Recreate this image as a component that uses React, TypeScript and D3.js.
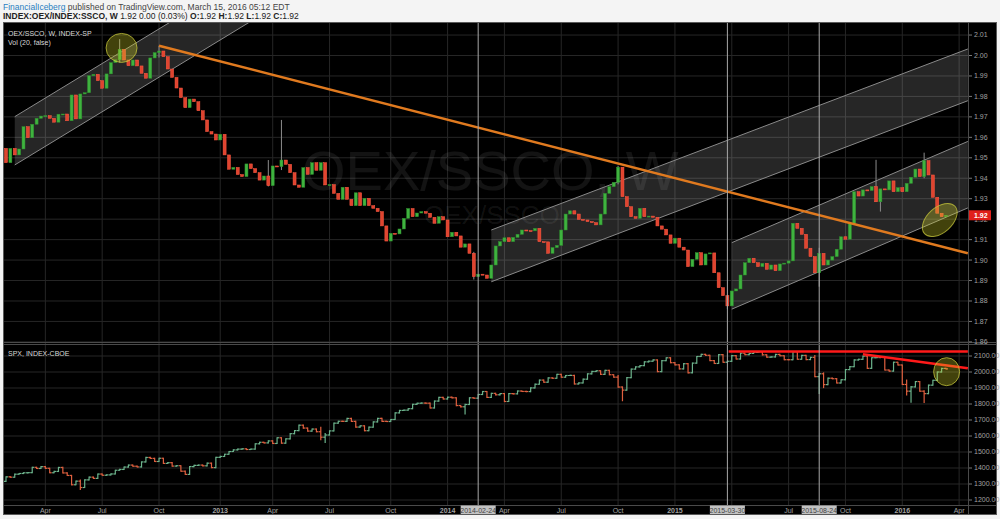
import React from "react";
import * as d3 from "d3";

// Weekly OEX/SSCO candles with S&P 500 bars underneath, as in the TradingView snapshot.

const FIRST_BAR = "2012-01-30";

const oexFirstOpen = 1.9546;
const oexClose = [
  1.9476, 1.9546, 1.9514, 1.9543, 1.9652, 1.9598, 1.9664, 1.9693, 1.9704, 1.9706,
  1.9693, 1.9674, 1.9713, 1.9714, 1.9681, 1.9807, 1.969, 1.9812, 1.9818, 1.9901,
  1.9908, 1.9877, 1.984, 1.991, 1.9965, 1.9979, 2.003, 1.9978, 1.995, 1.9978,
  1.9949, 1.9913, 1.9889, 1.9988, 2.0014, 2.0022, 1.9994, 1.9934, 1.9893, 1.9841,
  1.9794, 1.9745, 1.9787, 1.9774, 1.973, 1.9685, 1.9628, 1.9616, 1.9587, 1.9615,
  1.9514, 1.9444, 1.9453, 1.9418, 1.9408, 1.947, 1.9447, 1.9427, 1.9391, 1.9411,
  1.9364, 1.946, 1.9457, 1.9489, 1.9468, 1.9427, 1.9367, 1.9356, 1.9452, 1.9419,
  1.9476, 1.9439, 1.9476, 1.9367, 1.9369, 1.9326, 1.9297, 1.9356, 1.9297, 1.9266,
  1.9329, 1.9266, 1.9302, 1.9266, 1.9253, 1.9237, 1.9167, 1.9093, 1.9131, 1.9128,
  1.9152, 1.9204, 1.9252, 1.9212, 1.923, 1.9237, 1.9229, 1.9209, 1.918, 1.9212,
  1.9196, 1.9114, 1.9136, 1.9118, 1.9063, 1.9079, 1.9033, 1.8919, 1.8931, 1.8927,
  1.8911, 1.8976, 1.9069, 1.909, 1.9109, 1.909, 1.9111, 1.9126, 1.9147, 1.9144,
  1.9143, 1.9155, 1.909, 1.9089, 1.9033, 1.9061, 1.9072, 1.9147, 1.9225, 1.9241,
  1.9225, 1.9199, 1.9196, 1.9188, 1.9183, 1.9172, 1.9225, 1.9326, 1.9359, 1.938,
  1.9454, 1.931, 1.9261, 1.9212, 1.9204, 1.9253, 1.9212, 1.9215, 1.9209, 1.9167,
  1.9151, 1.9123, 1.9082, 1.9107, 1.9063, 1.9049, 1.8968, 1.9004, 1.9036, 1.8976,
  1.903, 1.9035, 1.8938, 1.8865, 1.8826, 1.8776, 1.8849, 1.8859, 1.8927, 1.8987,
  1.9009, 1.8987, 1.8968, 1.8984, 1.8955, 1.8976, 1.8948, 1.8981, 1.8985, 1.8996,
  1.918, 1.9155, 1.9126, 1.9058, 1.9017, 1.8938, 1.9033, 1.8976, 1.9, 1.9017,
  1.9053, 1.9114, 1.9102, 1.918, 1.9334, 1.9313, 1.9343, 1.934, 1.9359, 1.9285,
  1.9348, 1.9343, 1.9387, 1.9334, 1.9354, 1.9334, 1.9375, 1.9405, 1.9445, 1.9408,
  1.9486, 1.9416, 1.9307, 1.9229, 1.9212, 1.9219,
];
// [bar, high, low] for the wicks that stand out
const oexWicks = [
  [26, 2.008, 1.9965], [35, 2.0048, 1.999], [60, 1.9489, 1.936], [63, 1.9685, 1.944],
  [107, 1.904, 1.8905], [140, 1.946, 1.937], [165, 1.88, 1.876], [186, 1.906, 1.887],
  [199, 1.949, 1.9285], [200, 1.9348, 1.9237], [210, 1.9525, 1.94],
];

const spxFirstOpen = 1316.3;
const spxClose = [
  1344.9, 1342.6, 1361.2, 1365.7, 1370.0, 1370.9, 1404.2, 1397.1, 1408.5, 1398.1,
  1370.3, 1378.5, 1403.4, 1369.1, 1353.4, 1295.2, 1317.8, 1278.0, 1325.7, 1342.8,
  1335.0, 1362.2, 1354.7, 1356.8, 1362.7, 1386.0, 1391.0, 1405.9, 1418.2, 1411.1,
  1406.6, 1437.9, 1465.8, 1460.2, 1440.7, 1460.9, 1428.6, 1433.2, 1411.9, 1414.2,
  1379.9, 1359.9, 1409.2, 1416.2, 1418.1, 1413.6, 1430.2, 1402.4,
  1466.5, 1472.1, 1486.0, 1503.0, 1513.2, 1517.9, 1519.8, 1515.6, 1518.2, 1551.2,
  1560.7, 1556.9, 1569.2, 1553.3, 1588.9, 1555.3, 1582.2, 1614.4, 1633.7, 1667.5,
  1649.6, 1630.7, 1643.4, 1626.7, 1592.4, 1606.3, 1631.9, 1680.2, 1692.1, 1691.7,
  1709.7, 1691.4, 1655.8, 1663.5, 1633.0, 1655.2, 1688.0, 1709.9, 1691.8, 1690.5,
  1703.2, 1744.5, 1759.8, 1761.6, 1770.6, 1798.2, 1804.8, 1805.8, 1805.1, 1775.3,
  1818.3, 1841.4,
  1831.4, 1842.4, 1838.7, 1790.3, 1782.6, 1797.0, 1838.6, 1836.3, 1859.5, 1878.0,
  1841.1, 1866.5, 1857.6, 1865.1, 1815.7, 1864.9, 1863.4, 1881.1, 1878.5, 1877.9,
  1900.5, 1923.6, 1949.4, 1936.2, 1962.9, 1961.0, 1985.4, 1967.6, 1978.2, 1978.3,
  1925.2, 1931.6, 1955.1, 1988.4, 2003.4, 2007.7, 1985.5, 2010.4, 1982.9, 1967.9,
  1906.1, 1886.8, 1964.6, 2018.1, 2031.9, 2039.8, 2063.5, 2067.6, 2075.4, 2002.3,
  2070.7, 2088.8,
  2058.2, 2044.8, 2019.4, 2051.8, 1995.0, 2055.5, 2097.0, 2110.3, 2104.5, 2071.3,
  2053.4, 2108.1, 2061.0, 2067.0, 2102.1, 2081.2, 2117.7, 2108.3, 2116.1, 2122.7,
  2126.1, 2107.4, 2092.8, 2094.1, 2110.0, 2101.5, 2076.8, 2076.6, 2126.6, 2079.7,
  2103.8, 2077.6, 2091.5, 1970.9, 1988.9, 1921.2, 1961.1, 1958.0, 1931.3, 1951.4,
  2014.9, 2033.1, 2075.2, 2079.4, 2099.2, 2023.0, 2089.2, 2090.1, 2091.7, 2012.4,
  2005.6, 2061.0, 2043.9,
  1922.0, 1880.3, 1906.9, 1940.2, 1880.1, 1864.8, 1917.8, 1948.1, 2000.0, 2022.2,
  2019.6,
];
const spxWicks = [
  [17, 1325, 1266], [72, 1654, 1577], [73, 1615, 1560], [105, 1798, 1738],
  [140, 1977, 1905], [141, 1898, 1821], [185, 2103, 1971], [186, 1990, 1867],
  [187, 1994, 1903], [206, 1950, 1857], [207, 1909, 1812], [210, 1882, 1810],
];

const oexTicks = [2.01, 2.0, 1.99, 1.98, 1.97, 1.96, 1.95, 1.94, 1.93, 1.92, 1.91, 1.9, 1.89, 1.88, 1.87, 1.86];
const spxTicks = [2100, 2000, 1900, 1800, 1700, 1600, 1500, 1400, 1300, 1200];
const timeTicks = [
  ["2012-04-02", "Apr"], ["2012-07-02", "Jul"], ["2012-10-01", "Oct"], ["2013-01-07", "2013"],
  ["2013-04-01", "Apr"], ["2013-07-01", "Jul"], ["2013-10-07", "Oct"], ["2014-01-06", "2014"],
  ["2014-04-07", "Apr"], ["2014-07-07", "Jul"], ["2014-10-06", "Oct"], ["2015-01-05", "2015"],
  ["2015-04-06", ""], ["2015-07-06", "Jul"], ["2015-10-05", "Oct"], ["2016-01-04", "2016"],
  ["2016-04-04", "Apr"],
];
const markerDates = ["2014-02-24", "2015-03-30", "2015-08-24"];

const channels = [
  { from: "2012-02-13", to: "2013-03-04", upper: [1.9701, 2.0416], lower: [1.9465, 2.018] },
  { from: "2014-03-17", to: "2016-04-18", upper: [1.9147, 2.0032], lower: [1.8894, 1.9779] },
  { from: "2015-04-06", to: "2016-04-18", upper: [1.9085, 1.958], lower: [1.876, 1.9255] },
];
const trendLine = { from: "2012-10-01", to: "2016-04-18", values: [2.0048, 1.9033] };
const spxLines = [
  { from: "2015-04-01", to: "2016-04-18", values: [2128, 2128] },
  { from: "2015-11-02", to: "2016-04-18", values: [2110.6, 2023] },
];
const oexMarks = [
  { date: "2012-08-02", value: 2.0037, rx: 15.5, ry: 14.5, angle: 0 },
  { date: "2016-03-04", value: 1.9196, rx: 20.5, ry: 12.5, angle: -42 },
];
const spxMarks = [{ date: "2016-03-15", value: 2002, rx: 13, ry: 14, angle: 0 }];

const FONT = "'Liberation Sans', Arial, sans-serif";
const PLOT_L = 3;
const PLOT_R = 968;
const FRAME_R = 997;
const TOP_Y0 = 22;
const TOP_Y1 = 342;
const BOT_Y0 = 345;
const BOT_Y1 = 505;
const AXIS_Y1 = 515;
const GRID = "#262626";
const LABEL = "#a0a0a0";
const UP = "#3fb33f";
const DOWN = "#e0442f";
const SPX_UP = "#6cb38c";
const SPX_DOWN = "#e0603f";

const parse = d3.timeParse("%Y-%m-%d");
const day = (s: string) => parse(s) as Date;

export default function App() {
  const first = day(FIRST_BAR);
  const dates = oexClose.map((_, i) => d3.timeDay.offset(first, i * 7));

  const x = d3.scaleTime().domain([dates[0], dates[dates.length - 1]]).range([6, 946]);
  const yTop = d3.scaleLinear().domain([1.86, 2.0]).range([341.9, 55.5]);
  const yBot = d3.scaleLinear().domain([1200, 2100]).range([500, 356]);

  const bars = (close: number[], firstOpen: number, wicks: number[][]) =>
    close.map((c, i) => {
      const o = i === 0 ? firstOpen : close[i - 1];
      const w = wicks.find((v) => v[0] === i);
      return {
        date: dates[i],
        o,
        c,
        h: w ? Math.max(w[1], o, c) : Math.max(o, c),
        l: w ? Math.min(w[2], o, c) : Math.min(o, c),
      };
    });
  const oex = bars(oexClose, oexFirstOpen, oexWicks);
  const spx = bars(spxClose, spxFirstOpen, spxWicks);

  const lastClose = oexClose[oexClose.length - 1];

  return (
    <svg
      width={1000}
      height={519}
      style={{ position: "absolute", left: 0, top: 0, fontFamily: FONT }}
    >
      <defs>
        <clipPath id="clipTop">
          <rect x={PLOT_L} y={TOP_Y0} width={PLOT_R - PLOT_L} height={TOP_Y1 - TOP_Y0} />
        </clipPath>
        <clipPath id="clipBot">
          <rect x={PLOT_L} y={BOT_Y0} width={PLOT_R - PLOT_L} height={BOT_Y1 - BOT_Y0} />
        </clipPath>
      </defs>

      <rect width={1000} height={519} fill="#f4f4f4" />
      <rect x={PLOT_L} y={TOP_Y0} width={FRAME_R - PLOT_L} height={AXIS_Y1 - TOP_Y0} fill="#000" />

      {/* header */}
      <text x={3} y={10} fontSize={8.5} fill="#444">
        <tspan fill="#2a7fc1">FinancialIceberg</tspan> published on TradingView.com, March 15, 2016 05:12 EDT
      </text>
      <text x={3} y={19} fontSize={8.5} fill="#222">
        <tspan fontWeight="bold">INDEX:OEX/INDEX:SSCO, W</tspan> 1.92 0.00 (0.03%){" "}
        <tspan fontWeight="bold">O:</tspan>1.92 <tspan fontWeight="bold">H:</tspan>1.92{" "}
        <tspan fontWeight="bold">L:</tspan>1.92 <tspan fontWeight="bold">C:</tspan>1.92
      </text>

      {/* grid */}
      <g stroke={GRID} strokeWidth={1}>
        {timeTicks.map(([t]) => (
          <line key={t} x1={x(day(t))} x2={x(day(t))} y1={TOP_Y0} y2={BOT_Y1} />
        ))}
        {oexTicks.map((t) => (
          <line key={t} x1={PLOT_L} x2={PLOT_R} y1={yTop(t)} y2={yTop(t)} />
        ))}
        {spxTicks.map((t) => (
          <line key={t} x1={PLOT_L} x2={PLOT_R} y1={yBot(t)} y2={yBot(t)} />
        ))}
      </g>

      {/* watermark */}
      <g fill="#ffffff" fillOpacity={0.075}>
        <text x={302} y={190} fontSize={56}>OEX/SSCO, W</text>
        <text x={424} y={224} fontSize={26}>OEX/SSCO</text>
      </g>

      {/* top panel */}
      <g clipPath="url(#clipTop)">
        {channels.map((ch, i) => {
          const x0 = x(day(ch.from));
          const x1 = x(day(ch.to));
          const pts = [
            [x0, yTop(ch.upper[0])],
            [x1, yTop(ch.upper[1])],
            [x1, yTop(ch.lower[1])],
            [x0, yTop(ch.lower[0])],
          ];
          return (
            <g key={i}>
              <polygon points={pts.map((p) => p.join(",")).join(" ")} fill="#ffffff" fillOpacity={0.15} />
              <line x1={x0} y1={pts[0][1]} x2={x1} y2={pts[1][1]} stroke="#8a8a8a" strokeWidth={1} />
              <line x1={x0} y1={pts[3][1]} x2={x1} y2={pts[2][1]} stroke="#8a8a8a" strokeWidth={1} />
            </g>
          );
        })}

        {oex.map((b, i) => {
          const cx = x(b.date);
          const up = b.c >= b.o;
          const yt = yTop(Math.max(b.o, b.c));
          const yb = yTop(Math.min(b.o, b.c));
          return (
            <g key={i}>
              {b.h > Math.max(b.o, b.c) || b.l < Math.min(b.o, b.c) ? (
                <line x1={cx} x2={cx} y1={yTop(b.h)} y2={yTop(b.l)} stroke="#8c8c8c" strokeWidth={1} />
              ) : null}
              <rect
                x={cx - 1.5}
                y={yt}
                width={3}
                height={Math.max(1, yb - yt)}
                fill={up ? UP : DOWN}
                stroke={up ? "#2e8f2e" : "#ff5a45"}
                strokeWidth={0.5}
              />
            </g>
          );
        })}

        <line
          x1={x(day(trendLine.from))}
          y1={yTop(trendLine.values[0])}
          x2={x(day(trendLine.to))}
          y2={yTop(trendLine.values[1])}
          stroke="#e07a1f"
          strokeWidth={2.5}
        />

        {oexMarks.map((m, i) => {
          const cx = x(day(m.date));
          const cy = yTop(m.value);
          return (
            <ellipse
              key={i}
              cx={cx}
              cy={cy}
              rx={m.rx}
              ry={m.ry}
              transform={`rotate(${m.angle},${cx},${cy})`}
              fill="rgba(220,220,40,0.3)"
              stroke="rgba(200,200,60,0.75)"
              strokeWidth={1}
            />
          );
        })}
      </g>

      {/* bottom panel */}
      <g clipPath="url(#clipBot)">
        {spx.map((b, i) => {
          const cx = x(b.date);
          const col = b.c >= b.o ? SPX_UP : SPX_DOWN;
          return (
            <g key={i} stroke={col} strokeWidth={1.2}>
              <line x1={cx} x2={cx} y1={yBot(b.h) - 0.6} y2={yBot(b.l) + 0.6} />
              <line x1={cx - 2} x2={cx} y1={yBot(b.o)} y2={yBot(b.o)} />
              <line x1={cx} x2={cx + 2} y1={yBot(b.c)} y2={yBot(b.c)} />
            </g>
          );
        })}
        {spxLines.map((l, i) => (
          <line
            key={i}
            x1={x(day(l.from))}
            y1={yBot(l.values[0])}
            x2={x(day(l.to))}
            y2={yBot(l.values[1])}
            stroke="#ff1a1a"
            strokeWidth={2.5}
          />
        ))}
        {spxMarks.map((m, i) => (
          <ellipse
            key={i}
            cx={x(day(m.date))}
            cy={yBot(m.value)}
            rx={m.rx}
            ry={m.ry}
            fill="rgba(220,220,40,0.3)"
            stroke="rgba(200,200,60,0.75)"
            strokeWidth={1}
          />
        ))}
      </g>

      {/* vertical date markers */}
      {markerDates.map((t) => (
        <line key={t} x1={x(day(t))} x2={x(day(t))} y1={TOP_Y0} y2={BOT_Y1} stroke="#a8a8a8" strokeWidth={1} />
      ))}

      {/* panel separators and axis borders */}
      <line x1={PLOT_L} x2={FRAME_R} y1={TOP_Y1 + 0.5} y2={TOP_Y1 + 0.5} stroke="#4a4a4a" />
      <line x1={PLOT_L} x2={FRAME_R} y1={TOP_Y1 + 2.5} y2={TOP_Y1 + 2.5} stroke="#4a4a4a" />
      <line x1={PLOT_R + 0.5} x2={PLOT_R + 0.5} y1={TOP_Y0} y2={AXIS_Y1} stroke="#4a4a4a" />
      <line x1={PLOT_L} x2={FRAME_R} y1={BOT_Y1 + 0.5} y2={BOT_Y1 + 0.5} stroke="#4a4a4a" />

      {/* right price scales */}
      <g fontSize={7} fill={LABEL}>
        {oexTicks.map((t) => (
          <g key={t}>
            <line x1={PLOT_R + 1} x2={PLOT_R + 4} y1={yTop(t)} y2={yTop(t)} stroke="#777" />
            <text x={PLOT_R + 6} y={yTop(t)} dy="0.35em">
              {t.toFixed(2)}
            </text>
          </g>
        ))}
        {spxTicks.map((t) => (
          <g key={t}>
            <line x1={PLOT_R + 1} x2={PLOT_R + 4} y1={yBot(t)} y2={yBot(t)} stroke="#777" />
            <text x={PLOT_R + 6} y={yBot(t)} dy="0.35em">
              {t.toFixed(2)}
            </text>
          </g>
        ))}
      </g>
      <rect x={PLOT_R + 1} y={yTop(lastClose) - 5} width={22} height={10} fill="#e0201b" />
      <text x={PLOT_R + 6} y={yTop(lastClose)} dy="0.35em" fontSize={7} fontWeight="bold" fill="#fff">
        {lastClose.toFixed(2)}
      </text>

      {/* time axis */}
      <g fontSize={7} fill={LABEL} textAnchor="middle">
        {timeTicks.map(([t, label]) =>
          label ? (
            <text key={t} x={x(day(t))} y={513} fontWeight={/^\d+$/.test(label) ? "bold" : "normal"}>
              {label}
            </text>
          ) : null
        )}
      </g>
      {markerDates.map((t) => (
        <g key={t}>
          <rect x={x(day(t)) - 17.5} y={BOT_Y1 + 0.5} width={35} height={9.5} fill="#c2c2c2" />
          <text x={x(day(t))} y={513} textAnchor="middle" fontSize={7} fill="#444">
            {t}
          </text>
        </g>
      ))}

      {/* legends */}
      <g fontSize={7} fill="#d8d8d8">
        <text x={8} y={36}>OEX/SSCO, W, INDEX-SP</text>
        <text x={8} y={45}>Vol (20, false)</text>
        <text x={8} y={356}>SPX, INDEX-CBOE</text>
      </g>

      <rect
        x={PLOT_L + 0.5}
        y={TOP_Y0 + 0.5}
        width={FRAME_R - PLOT_L - 1}
        height={AXIS_Y1 - TOP_Y0 - 1}
        fill="none"
        stroke="#5a5a5a"
      />
    </svg>
  );
}
